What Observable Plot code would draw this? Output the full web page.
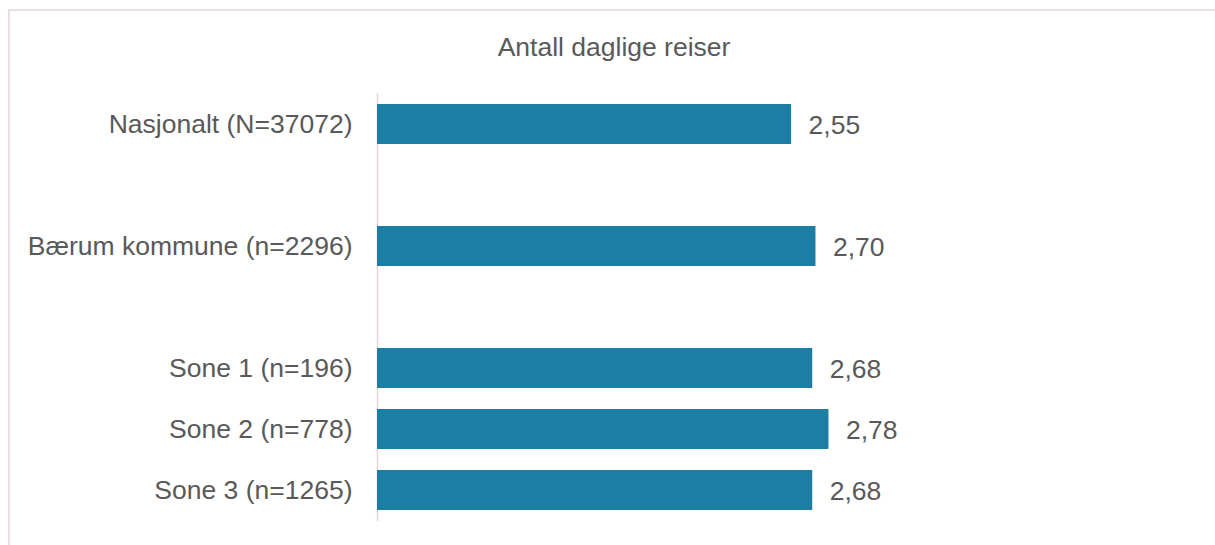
<!DOCTYPE html>
<html><head><meta charset="utf-8">
<script src="https://cdn.jsdelivr.net/npm/d3@7"></script>
<script src="https://cdn.jsdelivr.net/npm/@observablehq/plot@0.6"></script>
<style>
body{margin:0;background:#fff;}
#wrap{position:relative;width:1215px;height:545px;overflow:hidden;font-family:"Liberation Sans",Arial,sans-serif;}
#frame{position:absolute;left:8px;top:9px;width:1300px;height:600px;border:2px solid #ebdfe4;}
#title{position:absolute;left:414px;width:400px;top:34px;text-align:center;font-size:26.5px;line-height:1;color:#595959;}
#chart{position:absolute;left:0;top:0;}
</style></head>
<body><div id="wrap"><div id="frame"></div><div id="title"></div><div id="chart"></div></div>
<script>
const title = "Antall daglige reiser";
const categories = ["Nasjonalt (N=37072)", "Bærum kommune (n=2296)", "Sone 1 (n=196)", "Sone 2 (n=778)", "Sone 3 (n=1265)"];
const values = [2.55, 2.70, 2.68, 2.78, 2.68];
const valueLabels = ["2,55", "2,70", "2,68", "2,78", "2,68"];
const yOrder = [categories[0], "gap1", categories[1], "gap2", categories[2], categories[3], categories[4]];

document.getElementById("title").textContent = title;
const data = categories.map((c, i) => ({cat: c, value: values[i], label: valueLabels[i]}));

const chart = Plot.plot({
  width: 1215,
  height: 545,
  marginLeft: 377,
  marginRight: 26,
  marginTop: 93,
  marginBottom: 24,
  x: {domain: [0, 5], axis: null},
  y: {domain: yOrder, paddingInner: 0.338, paddingOuter: 0.169, label: null, tickSize: 0, tickPadding: 25,
      tickFormat: d => d.startsWith("gap") ? "" : d},
  style: {fontFamily: "'Liberation Sans', Arial, sans-serif", fontSize: "26.5px", color: "#595959", background: "transparent"},
  marks: [
    Plot.ruleX([0], {stroke: "#e6d6dd", strokeWidth: 1.5}),
    Plot.barX(data, {x: "value", y: "cat", fill: "#1d7ea5"}),
    Plot.text(data, {x: "value", y: "cat", text: "label", textAnchor: "start", dx: 17, dy: 1, fill: "#595959", fontSize: 26.5})
  ]
});
document.getElementById("chart").appendChild(chart);
</script>
</body></html>
